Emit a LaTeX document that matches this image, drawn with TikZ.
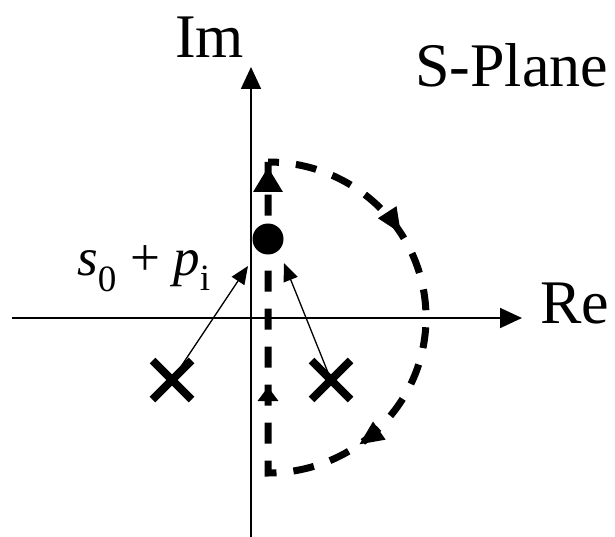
\documentclass[tikz,border=0pt]{standalone}
\usepackage{fontspec}
\setmainfont{Liberation Serif}
\usetikzlibrary{arrows.meta,shapes.misc,decorations.markings,positioning}
\tikzset{
    axisline/.style={line width=1.8pt,-{Triangle[length=22pt,width=20pt]}},
    lbl/.style={inner sep=0pt,anchor=base west,font=\fontsize{62}{70}\selectfont},
    pole/.style={cross out,draw,line width=8pt,minimum size=31pt,inner sep=0pt},
    zero/.style={circle,fill,minimum size=31pt,inner sep=0pt},
    mapping/.style={line width=1.3pt,-{Triangle[length=18pt,width=15pt]}},
    nyquist/.style={line width=7pt,dash pattern=on 21pt off 17pt,dash phase=10pt,
        postaction={decorate},
        decoration={markings,
            mark=at position 158pt with {\arrow{Triangle[length=26pt,width=20pt]}},
            mark=at position 396pt with {\arrow{Triangle[length=25pt,width=20pt]}},
            mark=at position -225pt with {\arrow{Triangle[length=14pt,width=20pt]}},
            mark=at position -5pt with {\arrow{Triangle[length=25pt,width=28pt]}}}}
}
\begin{document}
\begin{tikzpicture}[x=1pt,y=-1pt]
    \useasboundingbox (0,0) rectangle (615,537);
    \coordinate (reL) at (12,318);
    \coordinate (reR) at (522,318);
    \coordinate (imB) at (251,537);
    \coordinate (imT) at (251,67);
    \draw[axisline] (reL) -- (reR);
    \draw[axisline] (imB) -- (imT);
    \node[lbl] (im) at (175,58) {Im};
    \node[lbl] (re) at (540,323) {Re};
    \node[lbl] (plane) at (415,87) {S-Plane};

    \draw[nyquist] (268,162) arc[start angle=-90,end angle=90,x radius=158,y radius=155.5] -- cycle;

    \node[zero] (s0) at (268,239) {};
    \node[pole] (p1) at (172,380) {};
    \node[pole] (p2) at (331,380) {};
    \coordinate (t1) at (248,266);
    \coordinate (t2) at (284,263);
    \draw[mapping] (p1.center) -- (t1);
    \draw[mapping] (p2.center) -- (t2);
    \node[lbl,font=\fontsize{53}{60}\selectfont] (shifted) at (77,275)
        {\textit{s}\textsubscript{0} + \textit{p}\textsubscript{i}};
\end{tikzpicture}
\end{document}
